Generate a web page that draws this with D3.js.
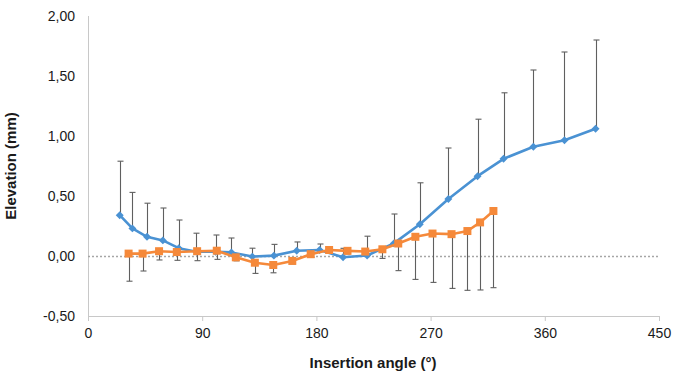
<!DOCTYPE html>
<html>
<head>
<meta charset="utf-8">
<script src="https://cdn.jsdelivr.net/npm/d3@7"></script>
<style>
  html, body { margin: 0; padding: 0; background: #fff; }
  svg { display: block; font-family: "Liberation Sans", Arial, sans-serif; }
</style>
</head>
<body>
<svg id="chart" width="676" height="375"></svg>
<script>
// Axis ticks
const xTicks = [0, 90, 180, 270, 360, 450];
const yTicks = [-0.5, 0, 0.5, 1.0, 1.5, 2.0];

// Series 1 (blue diamonds): insertion angle, mean elevation, upper error bound
const blueAngle = [25, 35, 46.5, 59, 71.5, 85.5, 100.5, 113, 129.5, 146.5, 164.5, 182.5, 201, 220, 241, 261.5, 284, 307, 327.5, 351, 375.5, 400];
const blueValue = [0.34, 0.23, 0.16, 0.13, 0.065, 0.035, 0.035, 0.03, -0.005, 0.003, 0.044, 0.05, -0.01, 0.004, 0.105, 0.265, 0.475, 0.665, 0.81, 0.91, 0.965, 1.06];
const blueUpper = [0.79, 0.53, 0.44, 0.40, 0.30, 0.19, 0.175, 0.15, 0.065, 0.097, 0.117, 0.10, 0.064, 0.165, 0.35, 0.61, 0.90, 1.14, 1.36, 1.55, 1.70, 1.80];

// Series 2 (orange squares): insertion angle, mean elevation, lower error bound
const orangeAngle = [32, 43, 56, 70, 86, 101.5, 116.5, 131.5, 146, 161, 175.5, 190, 204.5, 218.5, 232, 244.5, 258, 271.5, 286.5, 299, 309, 319.5];
const orangeValue = [0.02, 0.02, 0.04, 0.033, 0.04, 0.044, -0.011, -0.056, -0.075, -0.041, 0.015, 0.05, 0.043, 0.037, 0.056, 0.104, 0.16, 0.187, 0.182, 0.208, 0.28, 0.375];
const orangeLower = [-0.21, -0.125, -0.033, -0.036, -0.039, -0.028, -0.04, -0.145, -0.14, -0.065, -0.01, 0.025, 0.018, 0.012, -0.02, -0.122, -0.195, -0.22, -0.27, -0.286, -0.283, -0.264];

const svg = d3.select("#chart");
const plotLeft = 88, plotRight = 659, plotTop = 16, plotBottom = 316;

const x = d3.scaleLinear().domain([0, 450]).range([plotLeft, plotRight]);
const y = d3.scaleLinear().domain([-0.5, 2.0]).range([plotBottom, plotTop]);
// Decimal comma, plain hyphen for negatives
const fmt = v => d3.format(".2f")(v).replace(".", ",").replace("\u2212", "-");

// Y axis: line and labels
svg.append("line")
  .attr("x1", plotLeft + 0.5).attr("x2", plotLeft + 0.5)
  .attr("y1", plotTop).attr("y2", plotBottom)
  .attr("stroke", "#c8c8c8").attr("stroke-width", 1);

svg.append("g").selectAll("text").data(yTicks).join("text")
  .attr("x", 75).attr("y", d => y(d))
  .attr("dy", "0.35em")
  .attr("text-anchor", "end")
  .attr("font-size", 14).attr("fill", "#1a1a1a")
  .text(fmt);

// X axis at the bottom of the plot
const xAxis = svg.append("g")
  .attr("transform", `translate(0,${plotBottom})`)
  .call(d3.axisBottom(x).tickValues(xTicks).tickSize(5).tickSizeOuter(0).tickPadding(7).tickFormat(d3.format("d")));
xAxis.select(".domain").attr("stroke", "#c8c8c8");
xAxis.selectAll(".tick line").attr("stroke", "#c8c8c8");
xAxis.selectAll(".tick text")
  .attr("font-size", 14).attr("fill", "#1a1a1a")
  .attr("font-family", "Liberation Sans, Arial, sans-serif");

// Dotted zero line
svg.append("line")
  .attr("x1", plotLeft).attr("x2", plotRight)
  .attr("y1", y(0) + 0.5).attr("y2", y(0) + 0.5)
  .attr("stroke", "#a6a6a6").attr("stroke-width", 1.3)
  .attr("stroke-dasharray", "2,2");

// Axis titles
svg.append("text")
  .attr("x", 373).attr("y", 368)
  .attr("text-anchor", "middle")
  .attr("font-size", 15).attr("font-weight", "bold").attr("fill", "#1a1a1a")
  .text("Insertion angle (°)");

svg.append("text")
  .attr("transform", "translate(16,166) rotate(-90)")
  .attr("text-anchor", "middle")
  .attr("font-size", 15).attr("font-weight", "bold").attr("fill", "#1a1a1a")
  .text("Elevation (mm)");

// Error bars
const errColor = "#5f5f5f";
function errorBars(angles, values, ends) {
  const g = svg.append("g").attr("stroke", errColor).attr("stroke-width", 1.1);
  angles.forEach((a, i) => {
    const cx = Math.round(x(a)) + 0.5;
    g.append("line").attr("x1", cx).attr("x2", cx)
      .attr("y1", y(values[i])).attr("y2", y(ends[i]));
    g.append("line").attr("x1", cx - 3).attr("x2", cx + 3)
      .attr("y1", y(ends[i])).attr("y2", y(ends[i]));
  });
}
errorBars(blueAngle, blueValue, blueUpper);
errorBars(orangeAngle, orangeValue, orangeLower);

// Series lines and markers
const line = d3.line().x(d => x(d[0])).y(d => y(d[1]));

const blue = "#4a92d3", orange = "#f5893a";
const blueData = blueAngle.map((a, i) => [a, blueValue[i]]);
const orangeData = orangeAngle.map((a, i) => [a, orangeValue[i]]);

svg.append("path").datum(blueData)
  .attr("d", line).attr("fill", "none")
  .attr("stroke", blue).attr("stroke-width", 2.6).attr("stroke-linejoin", "round");
svg.append("g").selectAll("path").data(blueData).join("path")
  .attr("transform", d => `translate(${x(d[0])},${y(d[1])})`)
  .attr("d", d3.symbol(d3.symbolDiamond2, 40)())
  .attr("fill", blue);

svg.append("path").datum(orangeData)
  .attr("d", line).attr("fill", "none")
  .attr("stroke", orange).attr("stroke-width", 2.6).attr("stroke-linejoin", "round");
svg.append("g").selectAll("rect").data(orangeData).join("rect")
  .attr("x", d => x(d[0]) - 4).attr("y", d => y(d[1]) - 4)
  .attr("width", 8).attr("height", 8)
  .attr("fill", orange);
</script>
</body>
</html>
